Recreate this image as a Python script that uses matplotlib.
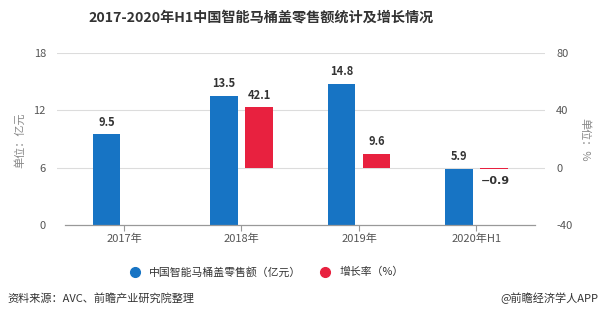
import matplotlib
matplotlib.use("Agg")
import matplotlib.pyplot as plt
from matplotlib.lines import Line2D

plt.rcParams['font.family'] = ['Noto Sans CJK SC', 'DejaVu Sans']
plt.rcParams['axes.unicode_minus'] = False

categories = ['2017年', '2018年', '2019年', '2020年H1']
sales = [9.5, 13.5, 14.8, 5.9]                 # 亿元
growth = [None, 42.1, 9.6, -0.9]               # %
left_ticks = [0, 6, 12, 18]
right_ticks = [-40, 0, 40, 80]

BLUE = '#1774C4'
RED = '#E8213F'
GRID = '#DCDCDC'
TICK_TXT = '#555555'

fig = plt.figure(figsize=(6.02, 3.25), dpi=100)
ax = fig.add_axes([57 / 602, 1 - 225 / 325, (545 - 57) / 602, (225 - 53) / 325])
ax2 = ax.twinx()

x = list(range(len(categories)))
w = 0.234
off = 0.149

ax.set_ylim(0, 18)
ax2.set_ylim(-40, 80)
ax.set_xlim(-0.57, 3.583)

# gridlines (skip the baseline, drawn as axis line below)
for t in left_ticks[1:]:
    ax.axhline(t, color=GRID, lw=0.8, zorder=0)

# bars
ax.bar([i - off for i in x], sales, width=w, color=BLUE, zorder=3)
gx = [i + off for i, g in zip(x, growth) if g is not None]
gv = [g for g in growth if g is not None]
ax2.bar(gx, gv, width=w, color=RED, zorder=3)

# value labels
for i, v in zip(x, sales):
    ax.annotate(f'{v}', (i - off, v), xytext=(0, 4), textcoords='offset points',
                ha='center', va='bottom', fontsize=8, fontweight='bold', color='#333333')
for i, v in zip(gx, gv):
    if v >= 0:
        ax2.annotate(f'{v}', (i, v), xytext=(0, 4), textcoords='offset points',
                     ha='center', va='bottom', fontsize=8, fontweight='bold', color='#333333')
    else:
        ax2.annotate(f'−{abs(v)}', (i, v), xytext=(1, -5), textcoords='offset points',
                     ha='center', va='top', fontsize=8, fontweight='bold', color='#333333',
                     family=['DejaVu Sans'])

# axis line at the bottom of the category range
ax.plot([-0.5, 3.5], [0, 0], color='#999999', lw=0.9, zorder=4, clip_on=False)

for a in (ax, ax2):
    for s in a.spines.values():
        s.set_visible(False)

ax.set_xticks(x)
ax.set_xticklabels(categories, fontsize=8, color=TICK_TXT)
ax.tick_params(axis='x', length=4, width=0.8, color='#999999', pad=2)
ax.set_yticks(left_ticks)
ax.set_yticklabels([str(t) for t in left_ticks], fontsize=8, color=TICK_TXT)
ax.tick_params(axis='y', length=0, pad=8)
ax2.set_yticks(right_ticks)
ax2.set_yticklabels([str(t) for t in right_ticks], fontsize=8, color=TICK_TXT)
ax2.tick_params(axis='y', length=0, pad=8)

fig.text(20 / 602, 1 - 140 / 325, '单位：亿元', rotation=90, ha='center', va='center',
         fontsize=8, color='#888888')
fig.text(585 / 602, 1 - 140 / 325, '单位：%', rotation=270, ha='center', va='center',
         fontsize=8, color='#888888')

fig.text(261 / 602, 1 - 18 / 325, '2017-2020年H1中国智能马桶盖零售额统计及增长情况',
         ha='center', va='center', fontsize=10.2, fontweight='bold', color='#333333')

handles = [
    Line2D([], [], marker='o', ls='', markersize=7, color=BLUE),
    Line2D([], [], marker='o', ls='', markersize=7, color=RED),
]
fig.legend(handles, ['中国智能马桶盖零售额（亿元）', '增长率（%）'],
           loc='center', bbox_to_anchor=(264 / 602, 1 - 272 / 325), ncol=2, frameon=False,
           fontsize=7.8, handletextpad=0.3, columnspacing=1.2, labelcolor='#333333')

fig.text(7 / 602, 1 - 298 / 325, '资料来源：AVC、前瞻产业研究院整理', ha='left', va='center',
         fontsize=8, color='#333333')
fig.text(598 / 602, 1 - 298 / 325, '@前瞻经济学人APP', ha='right', va='center',
         fontsize=8, color='#333333')

fig.savefig('out.png', dpi=100)
